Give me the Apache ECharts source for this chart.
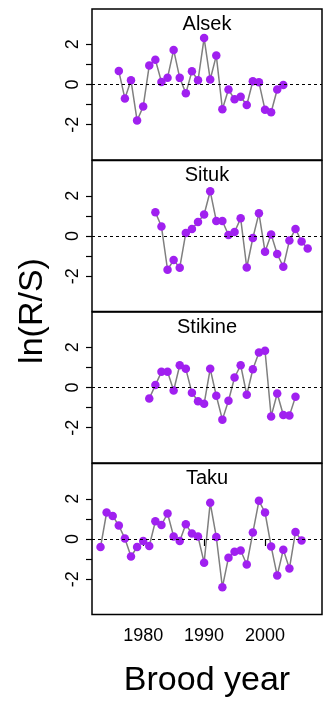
<!DOCTYPE html>
<html lang="en">
<head>
    <meta charset="UTF-8">
    <title>ln(R/S) by brood year</title>
    <script src="https://cdn.jsdelivr.net/npm/echarts@6/dist/echarts.min.js"></script>
    <style>
        html, body { margin: 0; padding: 0; background: #fff; }
    </style>
</head>
<body>
    <div id="main" style="width: 328px;height:704px;"></div>
    <script type="text/javascript">
        // 各河流的資料（起始年份 + 逐年 ln(R/S)）
        var panelNames = ['Alsek', 'Situk', 'Stikine', 'Taku'];
        var startYears = [1976, 1982, 1981, 1973];

        var alsek = [0.67, -0.70, 0.21, -1.79, -1.10, 0.95, 1.23, 0.13, 0.34, 1.72,
            0.33, -0.44, 0.66, 0.21, 2.31, 0.25, 1.44, -1.23, -0.25, -0.74,
            -0.61, -1.02, 0.16, 0.11, -1.26, -1.38, -0.25, -0.03];
        var situk = [1.18, 0.47, -1.68, -1.20, -1.58, 0.15, 0.35, 0.70, 1.07, 2.23,
            0.75, 0.75, 0.05, 0.20, 0.88, -1.57, -0.10, 1.13, -0.78, 0.08,
            -0.90, -1.53, -0.23, 0.35, -0.27, -0.62];
        var stikine = [-0.55, 0.12, 0.78, 0.78, -0.15, 1.11, 0.93, -0.26, -0.68, -0.81,
            0.93, -0.41, -1.60, -0.66, 0.50, 1.11, -0.36, 0.91, 1.74, 1.83,
            -1.44, -0.30, -1.37, -1.40, -0.46];
        var taku = [-0.40, 1.32, 1.15, 0.67, 0.02, -0.87, -0.40, -0.10, -0.35, 0.88,
            0.70, 1.27, 0.13, -0.10, 0.73, 0.27, 0.12, -1.18, 1.80, 0.10,
            -2.40, -0.93, -0.63, -0.57, -1.27, 0.32, 1.90, 1.32, -0.37, -1.82,
            -0.53, -1.47, 0.35, -0.08];

        var yTicks = [-2, -1, 0, 1, 2];
        var yLabels = [-2, 0, 2];
        var xLabels = [1980, 1990, 2000];

        var allValues = [alsek, situk, stikine, taku];
        var font = 'Liberation Sans, Arial, Helvetica, sans-serif';
        var panelTops = [9, 160.5, 312, 463.5];
        var panelH = 151;

        var myChart = echarts.init(document.getElementById('main'));

        var grids = [], xAxes = [], yAxes = [], series = [], titles = [];
        for (var i = 0; i < 4; i++) {
            var isLast = i === 3;
            grids.push({
                left: 92, width: 230, top: panelTops[i], height: panelH,
                show: true, borderColor: '#000', borderWidth: 1.5, backgroundColor: 'transparent'
            });
            xAxes.push({
                type: 'value', gridIndex: i, min: 1971.6, max: 2009.35,
                splitLine: { show: false },
                axisLine: { show: false },
                axisTick: {
                    show: isLast, customValues: xLabels, length: 7,
                    lineStyle: { color: '#000', width: 1.2 }
                },
                axisLabel: {
                    show: isLast, customValues: xLabels, margin: 13,
                    fontSize: 18, color: '#000', fontFamily: font,
                    formatter: function (v) { return String(v); }
                },
                name: isLast ? 'Brood year' : '',
                nameLocation: 'middle',
                nameGap: 66,
                nameTextStyle: { fontSize: 34, color: '#000', fontFamily: font, verticalAlign: 'middle' }
            });
            yAxes.push({
                type: 'value', gridIndex: i, min: -3.76, max: 3.76,
                splitLine: { show: false },
                axisLine: { show: false },
                axisTick: {
                    customValues: yTicks, length: 6,
                    lineStyle: { color: '#000', width: 1.2 }
                },
                axisLabel: {
                    customValues: yLabels, rotate: 90, margin: 10,
                    fontSize: 18, color: '#000', fontFamily: font
                }
            });
            // 組成 [年份, 數值]
            var pts = allValues[i].map(function (v, k) { return [startYears[i] + k, v]; });
            series.push({
                type: 'line', xAxisIndex: i, yAxisIndex: i, data: pts,
                symbol: 'circle', symbolSize: 8.5,
                lineStyle: { color: '#7f7f7f', width: 1.5 },
                itemStyle: { color: '#A020F0' },
                markLine: {
                    silent: true, symbol: 'none', label: { show: false },
                    lineStyle: { color: '#000', type: [3, 3], width: 1 },
                    data: [{ yAxis: 0 }]
                },
                z: 3
            });
            titles.push({
                text: panelNames[i], left: 207, top: panelTops[i] + 5, textAlign: 'center', padding: 0,
                textStyle: { fontSize: 20, fontWeight: 'normal', color: '#000', fontFamily: font }
            });
        }

        var option = {
            animation: false,
            backgroundColor: '#fff',
            title: titles,
            grid: grids,
            xAxis: xAxes,
            yAxis: yAxes,
            series: series,
            graphic: [{
                type: 'text', x: 33, y: 311, rotation: Math.PI / 2,
                style: {
                    text: 'ln(R/S)', fontSize: 34, fill: '#000', fontFamily: font,
                    textAlign: 'center', textVerticalAlign: 'middle'
                }
            }]
        };

        myChart.setOption(option);
    </script>
</body>
</html>
